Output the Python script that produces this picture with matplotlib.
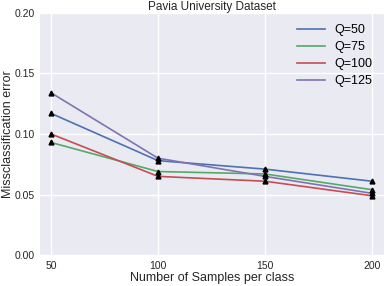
import matplotlib
matplotlib.use("Agg")
import matplotlib.pyplot as plt

samples = [50, 100, 150, 200]
q50 = [0.117, 0.078, 0.071, 0.061]
q75 = [0.093, 0.069, 0.067, 0.054]
q100 = [0.100, 0.065, 0.061, 0.049]
q125 = [0.134, 0.080, 0.065, 0.051]
labels = ["Q=50", "Q=75", "Q=100", "Q=125"]
colors = ["#4C72B0", "#55A868", "#C44E52", "#8172B2"]

plt.rcParams['font.family'] = ['Liberation Sans', 'DejaVu Sans']

fig = plt.figure(figsize=(3.84, 2.86), dpi=100)
ax = fig.add_axes([0.104, 0.108, 0.896, 0.847])
ax.set_facecolor("#EAEAF2")
for s in ax.spines.values():
    s.set_visible(False)
ax.grid(True, color="white", linewidth=1.0)
ax.set_axisbelow(True)

for ys, lab, c in zip([q50, q75, q100, q125], labels, colors):
    ax.plot(samples, ys, color=c, linewidth=1.2, label=lab)
for ys in [q50, q75, q100, q125]:
    ax.plot(samples, ys, linestyle="none", marker="^", color="black", markersize=3.5)

ax.set_xlim(44.8, 205.6)
ax.set_ylim(0, 0.2)
ax.set_xticks(samples)
ax.set_yticks([0.0, 0.05, 0.10, 0.15, 0.20])
ax.set_yticklabels(["0.00", "0.05", "0.10", "0.15", "0.20"])
ax.tick_params(axis="x", length=0, labelsize=7.5, colors="#262626", pad=4)
ax.tick_params(axis="y", length=0, labelsize=7.5, colors="#262626", pad=3.5)

ax.set_title("Pavia University Dataset", fontsize=8.5, color="#262626", pad=2)
ax.set_xlabel("Number of Samples per class", fontsize=9, color="#262626", labelpad=1)
ax.set_ylabel("Missclassification error", fontsize=9, color="#262626")
ax.yaxis.set_label_coords(-0.074, 0.5)

handles, labs = ax.get_legend_handles_labels()
leg = ax.legend(handles[:4], labs[:4], loc="upper right", frameon=False, fontsize=9,
                handlelength=2.2, handletextpad=0.8, labelspacing=0.4,
                bbox_to_anchor=(1.0, 1.0))

fig.savefig("out.png", dpi=100)
